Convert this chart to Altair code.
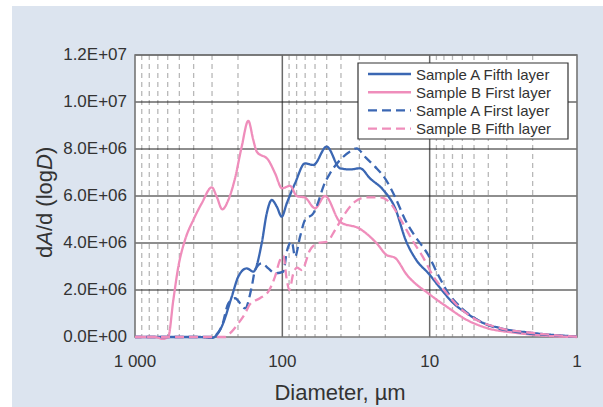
import altair as alt
import pandas as pd

# ---------------- data ----------------
series_names = ["Sample A Fifth layer", "Sample B First layer",
                "Sample A First layer", "Sample B Fifth layer"]
series_colors = ["#3b67b3", "#ef8dbb", "#3b67b3", "#ef8dbb"]
series_dashes = [[1, 0], [1, 0], [9, 5], [9, 5]]

# Sample A Fifth layer (diameter in um, dA/dlogD)
a5_d = [1000, 362, 301, 258, 220.6, 199, 174.4, 157.3, 138, 127.6, 118, 109.1,
        100.9, 93.3, 82.0, 70.1, 61.6, 50.0, 40.6, 34.7, 29.7, 25.4, 20.6, 17.2,
        14.5, 12.4, 10.1, 8.5, 6.94, 5.57, 4.34, 3.33, 1.99, 1.0]
a5_y = [0, 0, -0.04e6, 0.44e6, 1.71e6, 2.57e6, 2.92e6, 2.78e6, 3.99e6, 5.26e6,
        5.83e6, 5.55e6, 5.12e6, 5.69e6, 6.54e6, 7.39e6, 7.32e6, 8.1e6, 7.18e6,
        7.13e6, 7.18e6, 6.75e6, 6.25e6, 5.5e6, 4.1e6, 3.3e6, 2.68e6, 2.09e6,
        1.45e6, 1.0e6, 0.6e6, 0.38e6, 0.17e6, 0.02e6]

# Sample B First layer
b1_d = [1000, 731, 645, 594, 549.5, 508, 457.6, 402, 352.4, 301, 278.8, 255.5,
        232.6, 209.5, 188.7, 170.2, 157.4, 149.2, 124.5, 112.1, 100.5, 88.6,
        79.8, 70.1, 60.0, 51.3, 40.6, 29.7, 22.9, 19.6, 17.2, 14.3, 9.94, 7.62,
        5.57, 4.08, 2.55, 1.52, 1.0]
b1_y = [0, 0, -0.08e6, 0.02e6, 1.57e6, 2.99e6, 4.13e6, 4.98e6, 5.69e6, 6.37e6,
        5.97e6, 5.43e6, 5.83e6, 6.75e6, 8.1e6, 9.2e6, 8.38e6, 7.89e6, 7.53e6,
        6.97e6, 6.33e6, 6.43e6, 6.0e6, 5.93e6, 5.48e6, 6.0e6, 4.9e6, 4.6e6,
        3.99e6, 3.49e6, 3.37e6, 2.65e6, 1.8e6, 1.28e6, 0.72e6, 0.38e6, 0.17e6,
        0.04e6, 0.0]

# Sample A First layer
a1_d = [1000, 301, 258, 232.6, 209.5, 179, 161.3, 153, 138, 124.5, 112.1, 98.4,
        93.3, 86.3, 82.0, 75.8, 70.1, 61.6, 56.9, 52.7, 47.4, 40.6, 34.7, 31.3,
        27.5, 23.5, 20.1, 17.2, 14.7, 12.6, 10.25, 8.77, 7.50, 6.12, 5.00, 3.71,
        2.55, 1.52, 1.0]
a1_y = [0, 0, 0.44e6, 1.43e6, 1.65e6, 1.22e6, 2.14e6, 2.85e6, 3.14e6, 2.92e6,
        2.71e6, 2.78e6, 3.63e6, 4.06e6, 3.42e6, 4.27e6, 4.98e6, 5.26e6, 5.76e6,
        6.4e6, 6.97e6, 7.53e6, 7.89e6, 8.03e6, 7.67e6, 7.25e6, 6.75e6, 5.97e6,
        5.0e6, 4.3e6, 3.5e6, 2.65e6, 1.88e6, 1.25e6, 0.82e6, 0.43e6, 0.21e6,
        0.08e6, 0.01e6]

# Sample B Fifth layer
b5_d = [1000, 245, 220.6, 199, 179, 165.6, 142, 124.5, 112.1, 103.7, 98.4, 93.3,
        89.6, 84.2, 79.5, 73.8, 64.9, 57.2, 49.7, 43.9, 37.5, 32.1, 27.0, 21.7,
        18.6, 15.9, 13.2, 11.1, 9.48, 7.86, 6.52, 5.07, 3.33, 1.99, 1.0]
b5_y = [0, 0, 0.23e6, 0.58e6, 1.0e6, 1.4e6, 1.65e6, 1.93e6, 2.57e6, 3.28e6,
        3.47e6, 2.43e6, 2.0e6, 2.71e6, 2.95e6, 2.85e6, 3.7e6, 4.0e6, 4.06e6,
        4.55e6, 5.26e6, 5.76e6, 5.94e6, 5.94e6, 5.72e6, 5.05e6, 4.15e6, 3.4e6,
        2.6e6, 1.95e6, 1.35e6, 0.81e6, 0.38e6, 0.17e6, 0.01e6]

x_tick_values = [1000, 100, 10, 1]
x_tick_labels = ["1 000", "100", "10", "1"]
x_minor = [m * d for d in (1, 10, 100) for m in range(2, 10)]
x_major_inner = [100, 10]
y_tick_values = [0, 2e6, 4e6, 6e6, 8e6, 10e6, 12e6]
y_tick_labels = ["0.0E+00", "2.0E+06", "4.0E+06", "6.0E+06", "8.0E+06",
                 "1.0E+07", "1.2E+07"]
x_title = "Diameter, µm"
y_title_parts = [("d", "normal"), ("A", "italic"), ("/d (log", "normal"),
                 ("D", "italic"), (")", "normal")]

# ---------------- tables ----------------
rows = []
for name, ds, ys in [(series_names[0], a5_d, a5_y), (series_names[1], b1_d, b1_y),
                     (series_names[2], a1_d, a1_y), (series_names[3], b5_d, b5_y)]:
    for d, y in zip(ds, ys):
        rows.append({"series": name, "D": d, "Y": y})
df = pd.DataFrame(rows)

one = pd.DataFrame({"k": [0]})
W, H = 442, 282
FONT = "Liberation Sans"
TXT = "#333333"

xscale = alt.Scale(type="log", domain=[1, 1000], reverse=True, nice=False)
yscale = alt.Scale(domain=[0, 1.2e7], nice=False, zero=False)

# ---------------- layers ----------------
outer_bg = alt.Chart(one).mark_rect(color="#dce4ef").encode(
    x=alt.value(-123), x2=alt.value(468), y=alt.value(-49), y2=alt.value(352))

plot_bg = alt.Chart(one).mark_rect(fill="white").encode(
    x=alt.value(0), x2=alt.value(W), y=alt.value(0), y2=alt.value(H))

minor_grid = alt.Chart(pd.DataFrame({"D": x_minor})).mark_rule(
    color="#b8b8b8", strokeDash=[5, 4], strokeWidth=1.3).encode(
    x=alt.X("D:Q", scale=xscale, axis=None))

major_grid = alt.Chart(pd.DataFrame({"D": x_major_inner})).mark_rule(
    color="#6a6a6a", strokeWidth=1.5).encode(
    x=alt.X("D:Q", scale=xscale, axis=None))

h_grid = alt.Chart(pd.DataFrame({"Y": y_tick_values[1:]})).mark_rule(
    color="#1e1e1e", strokeWidth=1.2).encode(
    y=alt.Y("Y:Q", scale=yscale, axis=None))

frame = alt.Chart(one).mark_rect(fillOpacity=0, stroke="#767676", strokeWidth=1.6).encode(
    x=alt.value(0), x2=alt.value(W), y=alt.value(0), y2=alt.value(H))

lines = alt.Chart(df).mark_line(interpolate="monotone", strokeWidth=2.3).encode(
    x=alt.X("D:Q", scale=xscale, axis=None),
    y=alt.Y("Y:Q", scale=yscale, axis=None),
    color=alt.Color("series:N", scale=alt.Scale(domain=series_names, range=series_colors),
                    legend=None),
    strokeDash=alt.StrokeDash("series:N", scale=alt.Scale(domain=series_names,
                                                          range=series_dashes),
                              legend=None),
    order=alt.Order("D:Q"),
)

# tick labels as text marks placed through the scales
x_labels = alt.Chart(pd.DataFrame({"D": x_tick_values, "lab": x_tick_labels})).mark_text(
    font=FONT, fontSize=17, color=TXT, align="center", baseline="alphabetic").encode(
    x=alt.X("D:Q", scale=xscale, axis=None), y=alt.value(H + 30), text="lab:N")

y_labels = alt.Chart(pd.DataFrame({"Y": y_tick_values, "lab": y_tick_labels})).mark_text(
    font=FONT, fontSize=17, color=TXT, align="right", baseline="middle").encode(
    y=alt.Y("Y:Q", scale=yscale, axis=None), x=alt.value(-8), text="lab:N")

# x title
x_title_mark = alt.Chart(one).mark_text(text=x_title, font=FONT, fontSize=22,
                                        color=TXT, align="center",
                                        baseline="alphabetic").encode(
    x=alt.value(205), y=alt.value(345))

# y title, pieced together so that A and D are italic
sizes = {"d": 0.556, "A": 0.667, "/d (log": 2.779, "D": 0.722, ")": 0.333}
y_parts = []
pos = 203.0
for txt, style in y_title_parts:
    y_parts.append(alt.Chart(one).mark_text(text=txt, font=FONT, fontSize=22,
                                            fontStyle=style, color=TXT,
                                            angle=270, align="left",
                                            baseline="alphabetic").encode(
        x=alt.value(-83), y=alt.value(pos)))
    pos -= sizes[txt] * 22

# legend
leg_layers = [alt.Chart(one).mark_rect(fill="white", stroke="#333333", strokeWidth=1.2).encode(
    x=alt.value(223), x2=alt.value(433), y=alt.value(8), y2=alt.value(84))]
row_y = [19, 37.2, 55.4, 73.6]
for name, col, dash, ry in zip(series_names, series_colors, series_dashes, row_y):
    leg_layers.append(alt.Chart(one).mark_rule(color=col, strokeWidth=2.4,
                                               strokeDash=dash).encode(
        x=alt.value(233), x2=alt.value(276), y=alt.value(ry)))
    leg_layers.append(alt.Chart(one).mark_text(text=name, font=FONT, fontSize=15,
                                               color=TXT, align="left",
                                               baseline="middle").encode(
        x=alt.value(281), y=alt.value(ry + 0.5)))

chart = alt.layer(
    outer_bg, plot_bg, minor_grid, major_grid, h_grid, frame,
    lines, x_labels, y_labels, x_title_mark, *y_parts, *leg_layers
).properties(
    width=W, height=H,
    padding={"left": 135, "top": 55, "right": 26, "bottom": 70},
    autosize=alt.AutoSizeParams(type="none"),
    background="white",
).configure_view(stroke=None).configure(font=FONT)

chart.save("out.html", embed_options={"renderer": "svg", "actions": False})
